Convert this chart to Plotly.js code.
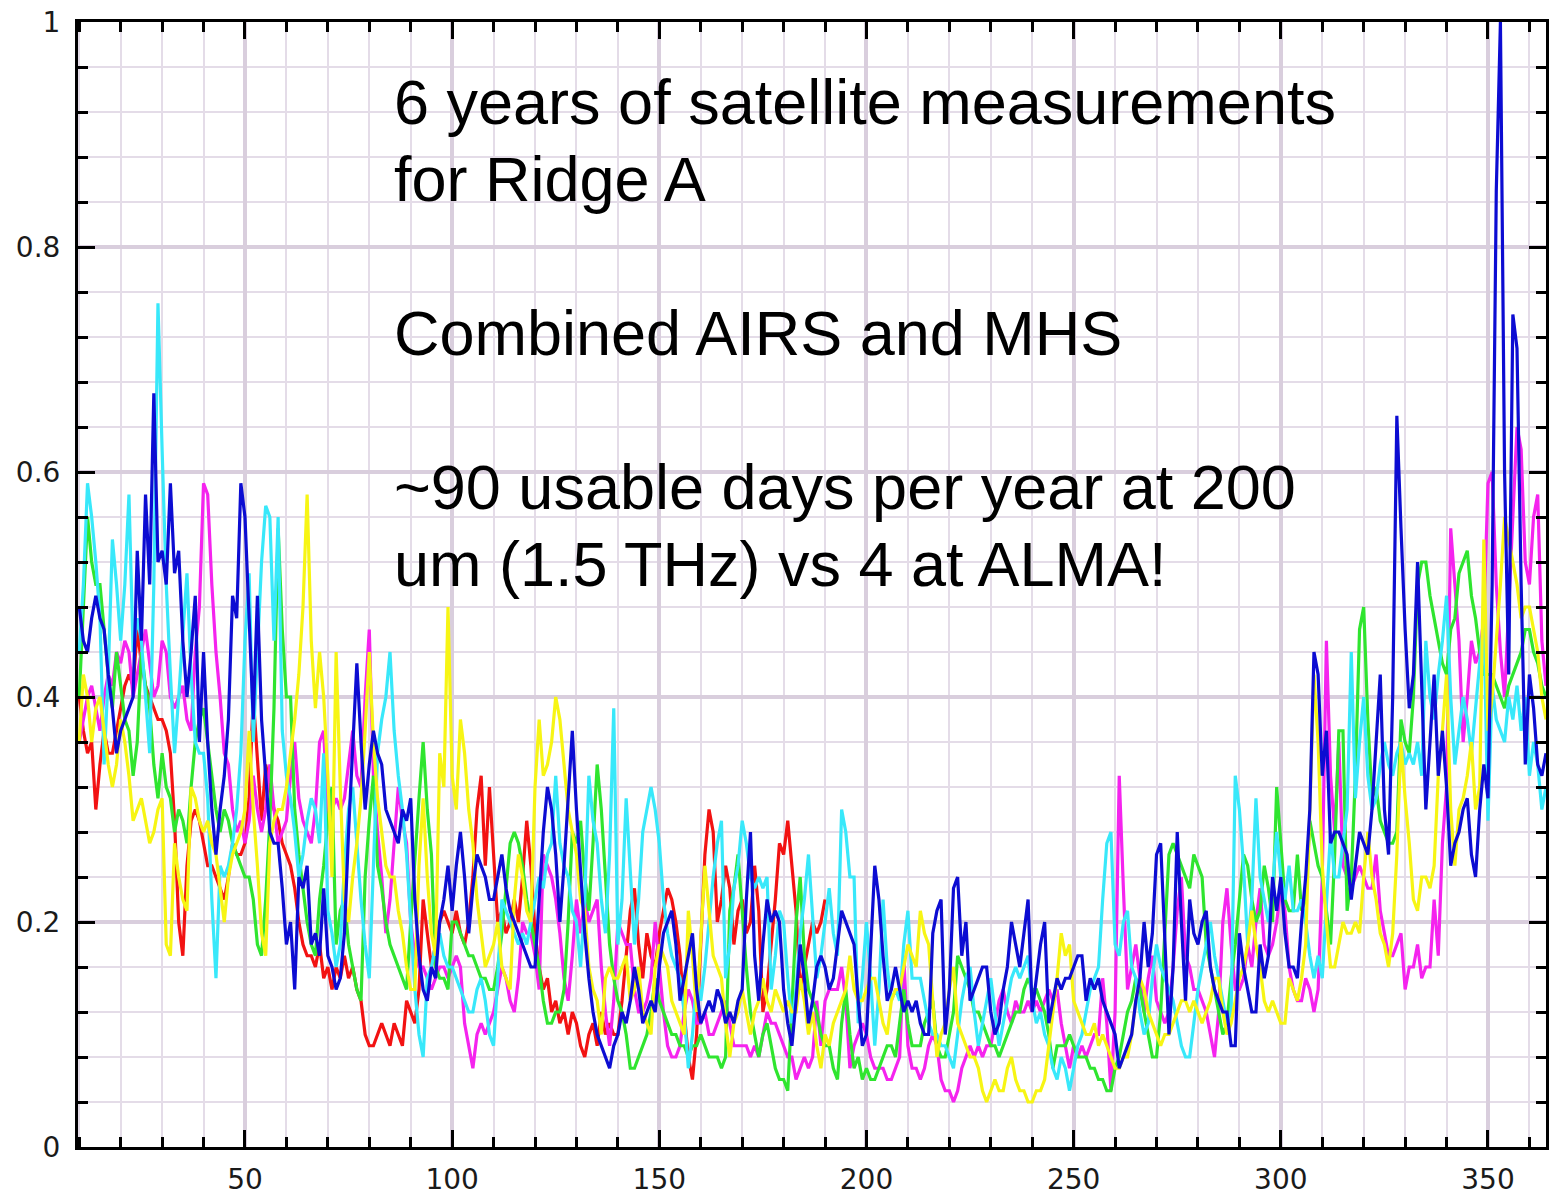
<!DOCTYPE html>
<html>
<head>
<meta charset="utf-8">
<script src="https://cdn.plot.ly/plotly-3.0.1.min.js"></script>
<style>
  html, body { margin: 0; padding: 0; background: #ffffff; }
  #chart { width: 1556px; height: 1199px; }
</style>
</head>
<body>
<div id="chart"></div>
<script>
// Daily opacity-like index for Ridge A, one series per year, starting at day 10.
const firstDay = 10;

const redSeries = [
  .40, .37, .35, .36, .30, .34, .37, .35, .35, .37,
  .39, .41, .42, .41, .46, .43, .41, .40, .39, .38,
  .38, .37, .35, .29, .20, .17, .25, .29, .30, .29,
  .27, .25, .25, .24, .23, .22, .24, .27, .26, .26,
  .27, .31, .40, .34, .29, .34, .32, .30, .29, .27,
  .26, .25, .23, .20, .18, .17, .17, .16, .18, .15,
  .16, .14, .16, .15, .17, .15, .16, .14, .13, .10,
  .09, .09, .10, .11, .10, .09, .11, .10, .09, .13,
  .12, .11, .14, .22, .19, .16, .18, .20, .21, .20,
  .19, .21, .19, .18, .20, .24, .30, .33, .25, .32,
  .26, .20, .21, .19, .20, .22, .20, .24, .29, .25,
  .19, .16, .14, .15, .12, .13, .11, .12, .10, .12,
  .11, .09, .08, .10, .11, .09, .12, .10, .11, .10,
  .10, .13, .17, .21, .23, .18, .15, .19, .17, .16,
  .19, .21, .23, .22, .20, .17, .12, .08, .06, .10,
  .18, .26, .30, .28, .20, .22, .25, .23, .18, .21,
  .22, .19, .20, .25, .21, .12, .14, .18, .22, .27,
  .26, .29, .25, .21, .14, .16, .18, .20, .19, .20,
  .22
];

const blueSeries = [
  .48, .45, .44, .47, .49, .47, .46, .42, .39, .35,
  .37, .38, .39, .40, .53, .45, .58, .50, .67, .52,
  .53, .50, .59, .51, .53, .45, .40, .44, .49, .36,
  .44, .36, .30, .26, .30, .33, .38, .49, .47, .59,
  .56, .47, .38, .49, .38, .33, .28, .27, .27, .23,
  .18, .20, .14, .24, .23, .25, .18, .19, .17, .23,
  .17, .16, .14, .15, .19, .28, .36, .43, .36, .30,
  .34, .37, .35, .34, .30, .29, .28, .27, .30, .29,
  .31, .22, .17, .14, .13, .16, .15, .20, .22, .25,
  .21, .25, .28, .24, .19, .23, .26, .25, .24, .22,
  .22, .24, .26, .23, .21, .20, .19, .18, .17, .16,
  .16, .22, .28, .32, .30, .26, .20, .25, .31, .37,
  .30, .24, .19, .15, .12, .10, .09, .08, .07, .09,
  .10, .12, .11, .13, .16, .14, .11, .12, .13, .12,
  .16, .19, .20, .21, .18, .13, .15, .17, .19, .14,
  .11, .12, .13, .12, .14, .13, .11, .12, .11, .13,
  .14, .22, .28, .17, .13, .18, .22, .20, .21, .20,
  .14, .11, .09, .13, .18, .15, .11, .13, .16, .17,
  .16, .14, .15, .18, .21, .20, .19, .18, .13, .09,
  .10, .18, .25, .22, .17, .13, .14, .16, .14, .12,
  .13, .12, .13, .11, .10, .10, .19, .21, .22, .10,
  .14, .23, .24, .17, .20, .13, .14, .15, .16, .16,
  .12, .10, .11, .14, .16, .20, .18, .16, .19, .22,
  .12, .15, .18, .20, .11, .13, .15, .14, .15, .15,
  .16, .17, .17, .13, .15, .14, .15, .13, .12, .11,
  .10, .07, .08, .09, .10, .13, .15, .20, .16, .19,
  .26, .27, .18, .10, .16, .28, .20, .13, .22, .19,
  .18, .20, .21, .16, .14, .13, .12, .12, .09, .09,
  .19, .16, .14, .12, .12, .18, .15, .17, .24, .21,
  .24, .19, .16, .16, .15, .20, .24, .30, .44, .42,
  .33, .37, .27, .28, .28, .27, .26, .22, .25, .28,
  .27, .26, .30, .36, .42, .30, .26, .40, .65, .55,
  .46, .39, .42, .52, .40, .30, .36, .42, .33, .37,
  .32, .25, .27, .28, .30, .31, .26, .24, .30, .34,
  .31, .50, .85, 1.0, .60, .42, .74, .71, .50, .34,
  .42, .39, .34, .33, .35
];

const cyanSeries = [
  .44, .50, .59, .56, .52, .47, .34, .42, .54, .50,
  .45, .50, .58, .44, .47, .45, .40, .35, .50, .75,
  .62, .50, .42, .35, .40, .46, .51, .42, .36, .35,
  .35, .31, .22, .15, .25, .24, .25, .27, .30, .35,
  .45, .51, .36, .44, .52, .57, .56, .45, .56, .37,
  .33, .31, .28, .24, .26, .29, .31, .30, .27, .35,
  .21, .19, .16, .18, .25, .30, .32, .27, .22, .18,
  .15, .25, .35, .38, .40, .44, .37, .33, .30, .26,
  .20, .14, .10, .08, .15, .16, .18, .19, .17, .16,
  .16, .15, .14, .13, .12, .12, .14, .15, .13, .10,
  .09, .15, .22, .21, .20, .19, .18, .19, .18, .20,
  .22, .24, .23, .26, .27, .33, .27, .25, .24, .21,
  .20, .16, .22, .33, .29, .27, .22, .19, .26, .39,
  .18, .22, .31, .25, .18, .22, .28, .30, .32, .30,
  .27, .22, .19, .17, .16, .15, .12, .07, .10, .15,
  .13, .16, .20, .24, .27, .29, .15, .18, .23, .25,
  .29, .27, .24, .23, .24, .23, .24, .14, .17, .21,
  .20, .15, .11, .14, .19, .22, .26, .20, .15, .17,
  .20, .23, .19, .17, .30, .28, .24, .24, .11, .15,
  .20, .15, .09, .14, .22, .16, .13, .14, .13, .18,
  .21, .15, .15, .15, .13, .11, .10, .10, .09, .09,
  .08, .07, .10, .13, .15, .16, .12, .09, .11, .13,
  .15, .12, .09, .11, .13, .15, .16, .15, .16, .17,
  .13, .11, .12, .10, .09, .07, .06, .08, .07, .05,
  .07, .09, .10, .12, .14, .15, .16, .22, .27, .28,
  .18, .17, .20, .21, .16, .15, .12, .10, .11, .15,
  .18, .16, .15, .14, .13, .11, .09, .08, .08, .11,
  .14, .16, .18, .20, .17, .15, .13, .11, .12, .33,
  .30, .25, .18, .22, .31, .24, .22, .20, .23, .28,
  .24, .22, .25, .21, .21, .22, .20, .17, .15, .17,
  .15, .22, .28, .24, .24, .27, .30, .44, .31, .36,
  .40, .33, .30, .31, .34, .36, .34, .33, .35, .36,
  .34, .35, .34, .36, .33, .45, .40, .38, .42, .45,
  .49, .40, .34, .37, .40, .38, .35, .39, .43, .47,
  .29, .41, .38, .37, .36, .40, .38, .41, .37, .40,
  .33, .36, .34, .30, .32
];

const magentaSeries = [
  .36, .38, .40, .41, .39, .37, .40, .42, .41, .44,
  .43, .45, .44, .40, .42, .44, .46, .43, .40, .41,
  .45, .44, .40, .39, .40, .41, .38, .37, .44, .48,
  .59, .58, .50, .44, .40, .35, .34, .30, .28, .29,
  .27, .29, .33, .30, .28, .30, .34, .30, .27, .28,
  .29, .33, .36, .31, .29, .28, .27, .30, .36, .37,
  .29, .30, .31, .30, .31, .34, .37, .33, .32, .40,
  .46, .33, .28, .24, .19, .22, .27, .32, .29, .27,
  .20, .17, .16, .16, .15, .14, .15, .16, .16, .15,
  .16, .17, .16, .11, .09, .07, .10, .11, .10, .11,
  .12, .14, .16, .15, .13, .12, .15, .20, .19, .19,
  .17, .14, .26, .25, .24, .22, .19, .15, .13, .17,
  .22, .19, .22, .20, .21, .22, .16, .12, .09, .13,
  .20, .19, .18, .18, .14, .12, .12, .13, .15, .20,
  .16, .12, .09, .08, .08, .09, .12, .14, .13, .11,
  .11, .12, .10, .10, .11, .12, .13, .11, .09, .09,
  .09, .09, .08, .09, .08, .10, .12, .11, .11, .10,
  .09, .08, .08, .06, .07, .08, .07, .08, .13, .09,
  .13, .14, .14, .14, .16, .13, .07, .09, .10, .11,
  .10, .08, .07, .07, .07, .06, .06, .07, .08, .17,
  .09, .07, .07, .06, .07, .09, .10, .09, .06, .05,
  .05, .04, .05, .07, .08, .09, .08, .09, .08, .09,
  .09, .11, .13, .14, .12, .11, .13, .12, .12, .13,
  .12, .13, .12, .13, .14, .13, .14, .11, .09, .07,
  .09, .08, .09, .08, .09, .10, .10, .15, .11, .05,
  .12, .33, .23, .14, .16, .18, .15, .12, .15, .17,
  .13, .12, .11, .12, .16, .21, .24, .17, .16, .14,
  .14, .13, .12, .10, .08, .12, .20, .23, .18, .14,
  .14, .15, .18, .16, .20, .23, .18, .17, .18, .20,
  .23, .21, .16, .14, .13, .13, .15, .14, .12, .14,
  .24, .45, .33, .28, .36, .25, .24, .23, .24, .25,
  .24, .23, .23, .26, .21, .19, .17, .17, .18, .19,
  .14, .16, .16, .18, .15, .16, .16, .22, .17, .27,
  .32, .55, .50, .45, .36, .40, .45, .43, .44, .47,
  .59, .60, .50, .44, .40, .48, .56, .64, .62, .52,
  .50, .56, .58, .45, .41
];

const greenSeries = [
  .40, .48, .56, .52, .50, .50, .46, .42, .39, .44,
  .41, .38, .37, .33, .36, .44, .41, .39, .34, .31,
  .35, .32, .31, .28, .30, .29, .27, .32, .36, .38,
  .39, .36, .33, .30, .28, .30, .29, .27, .26, .25,
  .24, .24, .22, .18, .17, .22, .29, .39, .55, .46,
  .40, .40, .30, .26, .23, .20, .18, .17, .22, .25,
  .29, .32, .18, .21, .22, .18, .16, .14, .13, .24,
  .29, .33, .25, .23, .20, .18, .17, .16, .15, .14,
  .20, .26, .31, .36, .30, .26, .16, .15, .15, .14,
  .20, .20, .19, .18, .17, .17, .16, .15, .15, .14,
  .14, .16, .19, .23, .27, .28, .27, .25, .22, .20,
  .18, .16, .13, .11, .11, .12, .12, .14, .20, .28,
  .27, .29, .24, .21, .27, .34, .30, .24, .18, .15,
  .13, .12, .10, .07, .07, .08, .09, .10, .12, .15,
  .13, .12, .11, .10, .10, .09, .09, .08, .09, .09,
  .10, .09, .08, .08, .08, .07, .08, .21, .23, .26,
  .21, .16, .12, .10, .08, .10, .11, .09, .07, .06,
  .06, .05, .12, .20, .24, .17, .14, .13, .12, .10,
  .09, .09, .07, .06, .11, .14, .10, .07, .08, .06,
  .07, .06, .06, .07, .08, .09, .09, .08, .11, .14,
  .11, .09, .09, .09, .11, .12, .13, .09, .08, .08,
  .10, .12, .17, .16, .15, .14, .12, .12, .11, .10,
  .09, .09, .08, .09, .10, .11, .12, .12, .14, .15,
  .14, .14, .13, .12, .10, .07, .09, .09, .09, .10,
  .09, .08, .08, .08, .07, .07, .06, .06, .05, .05,
  .07, .08, .10, .12, .13, .15, .14, .12, .10, .08,
  .08, .12, .19, .26, .27, .26, .25, .24, .23, .26,
  .25, .24, .18, .16, .14, .12, .10, .11, .15, .18,
  .22, .26, .25, .22, .20, .21, .25, .23, .20, .32,
  .27, .22, .21, .21, .26, .21, .22, .29, .27, .25,
  .24, .21, .18, .26, .37, .37, .21, .24, .33, .46,
  .48, .38, .31, .32, .29, .28, .27, .27, .28, .38,
  .36, .35, .40, .50, .52, .52, .49, .47, .45, .43,
  .42, .46, .47, .51, .52, .53, .49, .47, .44, .42,
  .42, .42, .41, .40, .39, .41, .42, .43, .44, .46,
  .46, .44, .43, .41, .40
];

const yellowSeries = [
  .36, .42, .40, .36, .39, .40, .37, .34, .32, .34,
  .38, .36, .33, .29, .30, .31, .29, .27, .28, .30,
  .31, .18, .17, .27, .24, .22, .21, .32, .31, .29,
  .28, .29, .27, .26, .23, .20, .24, .26, .27, .28,
  .30, .37, .30, .25, .19, .17, .27, .29, .30, .30,
  .32, .35, .38, .42, .48, .58, .45, .39, .44, .40,
  .33, .24, .44, .32, .22, .20, .24, .27, .31, .37,
  .44, .36, .31, .28, .25, .24, .24, .21, .19, .16,
  .14, .14, .25, .31, .24, .19, .17, .35, .32, .48,
  .33, .30, .38, .35, .30, .27, .22, .19, .16, .17,
  .18, .20, .16, .15, .14, .22, .26, .24, .21, .20,
  .32, .38, .33, .34, .36, .40, .38, .34, .30, .28,
  .26, .22, .21, .16, .14, .13, .10, .15, .16, .15,
  .15, .16, .17, .13, .14, .16, .12, .11, .10, .16,
  .18, .17, .16, .13, .12, .11, .10, .21, .17, .12,
  .18, .25, .21, .17, .16, .15, .11, .08, .11, .12,
  .14, .12, .10, .12, .13, .15, .13, .12, .14, .13,
  .12, .13, .12, .12, .15, .13, .10, .12, .09, .07,
  .10, .09, .11, .12, .13, .14, .17, .14, .13, .13,
  .14, .15, .15, .13, .11, .10, .13, .14, .14, .16,
  .18, .17, .16, .21, .19, .18, .13, .08, .10, .11,
  .14, .16, .11, .10, .09, .08, .08, .07, .05, .04,
  .05, .06, .05, .05, .07, .08, .06, .05, .05, .04,
  .04, .05, .05, .06, .09, .12, .15, .19, .17, .18,
  .13, .12, .11, .10, .10, .11, .09, .10, .09, .08,
  .07, .07, .08, .08, .10, .13, .15, .14, .12, .11,
  .10, .09, .10, .10, .11, .12, .13, .13, .12, .13,
  .12, .11, .12, .13, .15, .15, .12, .10, .11, .13,
  .15, .16, .18, .21, .18, .16, .13, .12, .13, .12,
  .11, .11, .15, .14, .13, .15, .18, .30, .42, .36,
  .25, .20, .16, .16, .18, .20, .19, .19, .20, .19,
  .24, .28, .24, .22, .19, .18, .16, .19, .26, .36,
  .31, .27, .22, .21, .24, .24, .23, .25, .33, .37,
  .42, .30, .25, .30, .31, .33, .36, .30, .32, .54,
  .37, .40, .45, .50, .56, .54, .52, .50, .47, .48,
  .48, .46, .44, .40, .38
];

// Drawing order: later series sit on top.
const seriesList = [
  { name: 'red',     values: redSeries,     color: '#f21212' },
  { name: 'magenta', values: magentaSeries, color: '#f523ee' },
  { name: 'green',   values: greenSeries,   color: '#2fe52f' },
  { name: 'cyan',    values: cyanSeries,    color: '#38e8fa' },
  { name: 'yellow',  values: yellowSeries,  color: '#f7f514' },
  { name: 'blue',    values: blueSeries,    color: '#0c0cd2' }
];

const noteLines = [
  '6 years of satellite measurements',
  'for Ridge A',
  'Combined AIRS and MHS',
  '~90 usable days per year at 200',
  'um (1.5 THz) vs 4 at ALMA!'
];
const noteRows = [0, 1, 3, 5, 6];

const traces = seriesList.map(s => ({
  type: 'scatter',
  mode: 'lines',
  name: s.name,
  x: s.values.map((_, i) => firstDay + i),
  y: s.values,
  line: { color: s.color, width: 3.2 },
  hoverinfo: 'x+y'
}));

// Pixel geometry of the plotting frame.
const W = 1556, H = 1199;
const M = { l: 78, r: 10, t: 22, b: 52 };
const plotH = H - M.t - M.b;
const plotW = W - M.l - M.r;
const noteLeftPx = 392;
const noteFirstPx = 102;
const noteStepPx = 77;

const annotations = noteLines.map((txt, k) => ({
  text: txt,
  xref: 'paper', yref: 'paper',
  x: (noteLeftPx - M.l) / plotW,
  y: 1 - (noteFirstPx + noteRows[k] * noteStepPx - M.t) / plotH,
  xanchor: 'left', yanchor: 'middle',
  showarrow: false,
  align: 'left',
  font: { family: 'Liberation Sans, Arial, sans-serif', size: 63, color: '#000000' }
}));

const tickFont = { family: 'DejaVu Sans, sans-serif', size: 28, color: '#1a1a1a' };
const majorGrid = '#d9cedd';
const minorGrid = '#e4dce8';

const layout = {
  width: W, height: H,
  margin: M,
  paper_bgcolor: '#ffffff',
  plot_bgcolor: '#ffffff',
  showlegend: false,
  xaxis: {
    range: [9.7, 364],
    tickmode: 'linear', tick0: 0, dtick: 50,
    ticks: 'inside', ticklen: 17, tickwidth: 3, tickcolor: '#000000',
    ticklabelstandoff: 5,
    showline: true, linewidth: 3, linecolor: '#000000', mirror: 'ticks',
    showgrid: true, gridcolor: majorGrid, gridwidth: 4,
    zeroline: false,
    tickfont: tickFont,
    minor: {
      tick0: 0, dtick: 10,
      ticks: 'inside', ticklen: 10, tickwidth: 3, tickcolor: '#000000',
      showgrid: true, gridcolor: minorGrid, gridwidth: 2
    }
  },
  yaxis: {
    range: [0, 1],
    tickmode: 'linear', tick0: 0, dtick: 0.2,
    ticks: 'inside', ticklen: 17, tickwidth: 3, tickcolor: '#000000',
    ticklabelstandoff: 9,
    showline: true, linewidth: 3, linecolor: '#000000', mirror: 'ticks',
    showgrid: true, gridcolor: majorGrid, gridwidth: 4,
    zeroline: false,
    tickfont: tickFont,
    minor: {
      tick0: 0, dtick: 0.04,
      ticks: 'inside', ticklen: 10, tickwidth: 3, tickcolor: '#000000',
      showgrid: true, gridcolor: minorGrid, gridwidth: 2
    }
  },
  annotations: annotations
};

Plotly.newPlot('chart', traces, layout, { displayModeBar: false, staticPlot: true });
</script>
</body>
</html>
